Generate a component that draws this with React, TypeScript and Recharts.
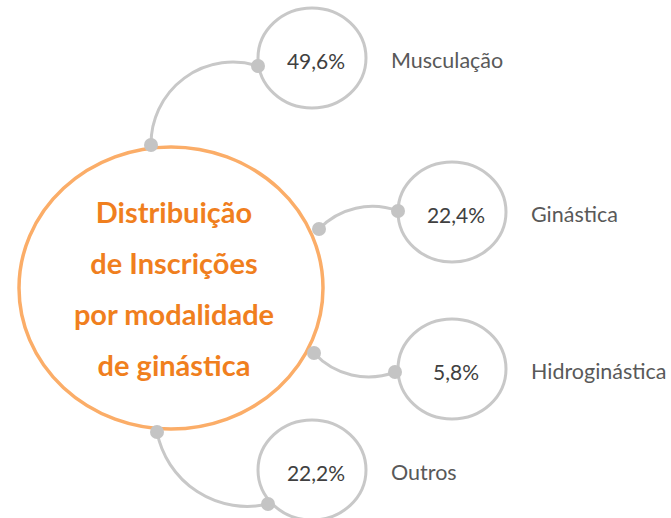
import { ScatterChart, Scatter, XAxis, YAxis } from 'recharts'

const W = 671
const H = 518

const titleLines = ['Distribuição', 'de Inscrições', 'por modalidade', 'de ginástica']
const categories = ['Musculação', 'Ginástica', 'Hidroginástica', 'Outros']
const shares = [49.6, 22.4, 5.8, 22.2]

// layout (axes are mapped 1:1 onto pixels)
const hubCenter = [171, 288]
const nodeCenters = [[312, 58], [452, 212], [452, 369], [312, 470]]
const anchors = [[151, 145], [319, 229], [314, 353], [157, 432]]
const attachPts = [[258, 66], [398, 211], [395, 372], [268, 504]]
const bends = [{ r: 82, sweep: 1 }, { r: 74, sweep: 1 }, { r: 74, sweep: 0 }, { r: 92, sweep: 0 }]

const FONT = 'Lato, "Open Sans", sans-serif'
const GREY = '#C8C8C8'

const fmt = (v: number) => v.toFixed(1).replace('.', ',') + '%'

const hubData = [{ x: hubCenter[0], y: hubCenter[1] }]
const nodeData = categories.map((c, i) => ({ x: nodeCenters[i][0], y: nodeCenters[i][1], name: c, share: shares[i] }))
const linkData = anchors.map((a, i) => ({
  x: a[0],
  y: a[1],
  dx: attachPts[i][0] - a[0],
  dy: attachPts[i][1] - a[1],
  ...bends[i],
}))
const dotData = [...anchors, ...attachPts].map(([x, y]) => ({ x, y }))

const HubShape = (p: any) => (
  <g>
    <ellipse cx={p.cx} cy={p.cy} rx={152} ry={141} fill="#fff" stroke="#FBAD68" strokeWidth={3.5} />
    <text textAnchor="middle" fill="#F07F1E" fontFamily={FONT} fontWeight={700} fontSize={29}>
      {titleLines.map((t, i) => (
        <tspan key={t} x={p.cx + 3} y={p.cy - 65 + i * 51}>{t}</tspan>
      ))}
    </text>
  </g>
)

const LinkShape = (p: any) => {
  const { dx, dy, r, sweep } = p.payload
  return (
    <path
      d={`M${p.cx},${p.cy} A${r},${r} 0 0 ${sweep} ${p.cx + dx},${p.cy + dy}`}
      fill="none"
      stroke={GREY}
      strokeWidth={3}
    />
  )
}

const NodeShape = (p: any) => (
  <g>
    <ellipse cx={p.cx} cy={p.cy} rx={54} ry={50} fill="#fff" stroke={GREY} strokeWidth={3} />
    <text x={p.cx + 4} y={p.cy + 2} textAnchor="middle" dominantBaseline="central" fill="#404040" fontFamily={FONT} fontSize={21}>
      {fmt(p.payload.share)}
    </text>
    <text x={p.cx + 79} y={p.cy + 2} dominantBaseline="central" fill="#595959" fontFamily={FONT} fontSize={21.5}>
      {p.payload.name}
    </text>
  </g>
)

const DotShape = (p: any) => <circle cx={p.cx} cy={p.cy} r={7} fill="#C4C4C4" />

export default function App() {
  return (
    <div style={{ position: 'absolute', left: 0, top: 0, background: '#fff' }}>
      <ScatterChart width={W} height={H} margin={{ top: 0, right: 0, bottom: 0, left: 0 }}>
        <XAxis type="number" dataKey="x" domain={[0, W]} hide />
        <YAxis type="number" dataKey="y" domain={[0, H]} reversed hide />
        <Scatter data={hubData} shape={HubShape} isAnimationActive={false} />
        <Scatter data={linkData} shape={LinkShape} isAnimationActive={false} />
        <Scatter data={nodeData} shape={NodeShape} isAnimationActive={false} />
        <Scatter data={dotData} shape={DotShape} isAnimationActive={false} />
      </ScatterChart>
    </div>
  )
}
